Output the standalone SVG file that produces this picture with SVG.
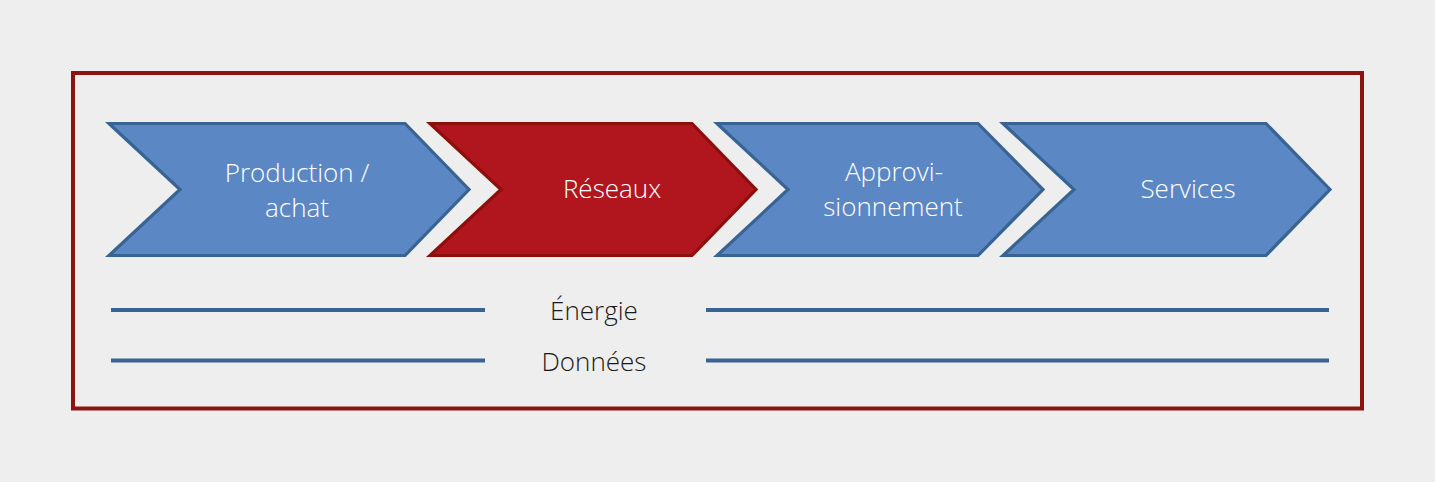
<svg xmlns="http://www.w3.org/2000/svg" width="1435" height="482" viewBox="0 0 1435 482">
<style>
.blue{fill:#5B87C4;stroke:#386392;stroke-width:3.2;stroke-linejoin:miter}
.red{fill:#B1151E;stroke:#8C0F0B;stroke-width:3.2;stroke-linejoin:miter}
.lbl{font-family:"Open Sans","Liberation Sans",sans-serif;font-weight:300;font-size:26px;fill:#FFFFFF;text-anchor:middle}
.dark{font-family:"Open Sans","Liberation Sans",sans-serif;font-weight:300;font-size:26px;fill:#1A1A1A;text-anchor:middle}
.ln{stroke:#386392;stroke-width:4;fill:none}
</style>
<rect x="0" y="0" width="1435" height="482" fill="#EEEEEE"/>
<rect id="frame" x="73" y="73" width="1289" height="335.5" fill="#EEEEEE" stroke="#8C1410" stroke-width="4"/>
<g id="production">
<polygon class="blue" points="109,123.5 405,123.5 469,189.5 405,255.5 109,255.5 180,189.5"/>
<text class="lbl" x="297" y="182">Production /</text>
<text class="lbl" x="297" y="217">achat</text>
</g>
<g id="reseaux">
<polygon class="red" points="430,123.5 692,123.5 756,189.5 692,255.5 430,255.5 501,189.5"/>
<text class="lbl" x="612" y="198">Réseaux</text>
</g>
<g id="approvisionnement">
<polygon class="blue" points="717,123.5 978,123.5 1043,189.5 978,255.5 717,255.5 788,189.5"/>
<text class="lbl" x="894" y="181">Approvi-</text>
<text class="lbl" x="893" y="216">sionnement</text>
</g>
<g id="services">
<polygon class="blue" points="1003,123.5 1266,123.5 1330,189.5 1266,255.5 1003,255.5 1074,189.5"/>
<text class="lbl" x="1188" y="198">Services</text>
</g>
<g id="connectors">
<line class="ln" x1="111" y1="310" x2="485" y2="310"/>
<line class="ln" x1="706" y1="310" x2="1329" y2="310"/>
<line class="ln" x1="111" y1="360.5" x2="485" y2="360.5"/>
<line class="ln" x1="706" y1="360.5" x2="1329" y2="360.5"/>
</g>
<g id="energie">
<text class="dark" x="594" y="320">Énergie</text>
</g>
<g id="donnees">
<text class="dark" x="594" y="371">Données</text>
</g>
</svg>
